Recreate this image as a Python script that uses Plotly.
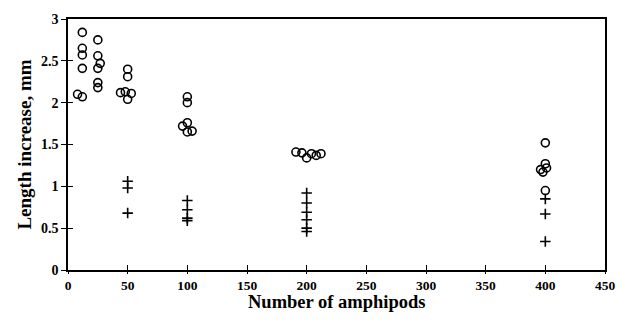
import plotly.graph_objects as go

# Circles (open symbols)
circle_x = [12, 12, 12, 12, 8, 12,
            25, 25, 27, 25, 25, 25,
            50, 50, 44, 48, 53, 50,
            100, 100, 100, 96, 100, 104,
            191, 196, 200, 204, 208, 212,
            400, 400, 396, 401, 398, 400]
circle_y = [2.84, 2.65, 2.57, 2.41, 2.10, 2.07,
            2.75, 2.56, 2.47, 2.41, 2.24, 2.18,
            2.40, 2.31, 2.12, 2.13, 2.11, 2.04,
            2.07, 2.00, 1.76, 1.72, 1.65, 1.66,
            1.41, 1.40, 1.34, 1.39, 1.37, 1.39,
            1.52, 1.27, 1.20, 1.22, 1.17, 0.95]

# Crosses
cross_x = [50, 50, 50,
           100, 100, 100, 100,
           200, 200, 200, 200, 200, 200,
           400, 400, 400]
cross_y = [1.06, 0.98, 0.68,
           0.83, 0.72, 0.62, 0.59,
           0.92, 0.80, 0.69, 0.60, 0.50, 0.46,
           0.85, 0.67, 0.34]

x_ticks = [0, 50, 100, 150, 200, 250, 300, 350, 400, 450]
y_ticks = [0, 0.5, 1, 1.5, 2, 2.5, 3]
y_tick_text = ["0", "0.5", "1", "1.5", "2", "2.5", "3"]

font_family = "Liberation Serif"

fig = go.Figure()
fig.add_trace(go.Scatter(
    x=circle_x, y=circle_y, mode="markers",
    marker=dict(symbol="circle-open", size=8, color="black", line=dict(width=1.6)),
    showlegend=False, cliponaxis=False))
fig.add_trace(go.Scatter(
    x=cross_x, y=cross_y, mode="markers",
    marker=dict(symbol="cross-thin-open", size=7.5, color="black", line=dict(width=1.6)),
    showlegend=False, cliponaxis=False))

fig.update_layout(
    width=627, height=327,
    margin=dict(l=68, r=21, t=13, b=57),
    paper_bgcolor="white", plot_bgcolor="white",
    font=dict(family=font_family, color="black"),
    xaxis=dict(
        range=[0, 450], tickvals=x_ticks,
        ticktext=["<b>%d</b>" % v for v in x_ticks],
        showgrid=False, zeroline=False,
        showline=True, linecolor="black", linewidth=1.5, mirror=True,
        ticks="outside", ticklen=2, tickwidth=1.2, tickcolor="black",
        tickfont=dict(family=font_family, size=13.5, color="black"),
    ),
    yaxis=dict(
        range=[0, 3], tickvals=y_ticks,
        ticktext=["<b>%s</b>" % t for t in y_tick_text],
        showgrid=False, zeroline=False,
        showline=True, linecolor="black", linewidth=1.5, mirror=True,
        ticks="outside", ticklen=5, tickwidth=1.2, tickcolor="black",
        tickfont=dict(family=font_family, size=14, color="black"),
        title=dict(text="<b>Length increase, mm</b>", standoff=4,
                   font=dict(family=font_family, size=19, color="black")),
    ),
    xaxis2=dict(
        range=[0, 450], tickvals=x_ticks, overlaying="x", side="bottom",
        showticklabels=False, showgrid=False, zeroline=False, showline=False,
        ticks="inside", ticklen=5, tickwidth=1.2, tickcolor="black",
    ),
    yaxis2=dict(
        range=[0, 3], tickvals=y_ticks, overlaying="y", side="left",
        showticklabels=False, showgrid=False, zeroline=False, showline=False,
        ticks="inside", ticklen=5, tickwidth=1.2, tickcolor="black",
    ),
    annotations=[dict(
        text="<b>Number of amphipods</b>", xref="paper", yref="paper",
        x=0.5, y=0, yshift=-32, xanchor="center", yanchor="middle",
        showarrow=False, font=dict(family=font_family, size=18.5, color="black"))],
)
# invisible trace to activate the second axes (inner tick halves)
fig.add_trace(go.Scatter(x=[None], y=[None], xaxis="x2", yaxis="y2",
                         showlegend=False, hoverinfo="skip"))

fig.write_html("out.html")
